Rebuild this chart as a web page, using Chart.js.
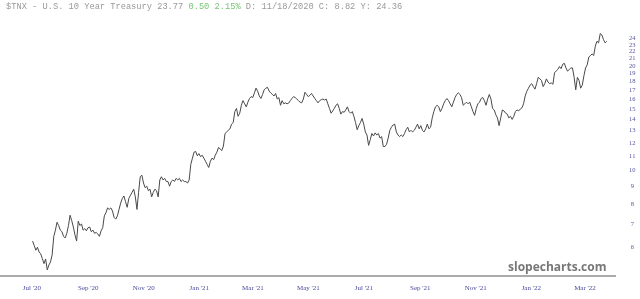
<!DOCTYPE html>
<html>
<head>
<meta charset="utf-8">
<script src="https://cdn.jsdelivr.net/npm/chart.js@4/dist/chart.umd.min.js"></script>
<style>
  body { margin: 0; background: #fff; }
  #wrap { position: relative; width: 640px; height: 299px; }
  #header {
    position: absolute; left: 6px; top: 2px;
    font: 8.7px "Liberation Mono", monospace; color: #999;
    white-space: pre;
  }
  #header .chg { color: #74c474; }
  #brand {
    position: absolute; left: 508px; top: 258px;
    font: bold 12px "Open Sans", sans-serif; color: #777;
  }
</style>
</head>
<body>
<div id="wrap">
  <canvas id="chart" width="640" height="299"></canvas>
  <div id="header">$TNX - U.S. 10 Year Treasury 23.77 <span class="chg">0.50 2.15%</span> D: 11/18/2020 C: 8.82 Y: 24.36</div>
  <div id="brand">slopecharts.com</div>
</div>
<script>
// closes, one per ~session, from early Jul 2020 to late Mar 2022
const closes = [
  6.25, 6.07, 5.88, 6.00, 5.81, 5.74, 5.56, 5.38, 5.55, 5.16,
  5.33, 5.44, 5.71, 6.45, 6.72, 7.08, 6.93, 6.72, 6.65, 6.45,
  6.38, 6.58, 6.93, 7.42, 7.16, 6.86, 6.51, 6.25, 7.13, 6.93,
  7.00, 6.72, 6.79, 6.69, 6.83, 6.86, 6.65, 6.72, 6.58, 6.62,
  6.55, 6.45, 6.69, 6.83, 7.39, 7.55, 7.79, 7.71, 7.79, 7.63,
  7.31, 7.23, 7.39, 7.71, 8.04, 8.29, 8.43, 8.12, 7.82, 8.29,
  8.47, 8.64, 8.82, 8.38, 7.71, 8.64, 9.58, 9.68, 9.19, 8.91,
  9.00, 8.73, 8.82, 8.38, 8.64, 8.82, 8.73, 8.38, 9.38, 9.58,
  9.38, 9.48, 9.28, 9.28, 9.00, 9.28, 9.38, 9.28, 9.48, 9.38,
  9.48, 9.28, 9.38, 9.28, 9.28, 9.19, 9.38, 10.40, 10.84, 11.28,
  11.33, 11.01, 11.17, 10.95, 11.05, 10.84, 10.62, 10.40, 10.19, 10.62,
  10.84, 10.73, 11.05, 11.28, 11.64, 11.52, 11.40, 11.75, 12.77, 12.90,
  13.04, 13.17, 13.59, 13.73, 14.77, 15.08, 14.31, 14.61, 15.40, 15.88,
  15.55, 15.24, 15.72, 16.11, 16.31, 16.21, 16.72, 17.25, 16.90, 16.38,
  16.11, 16.55, 17.07, 17.25, 17.35, 16.93, 16.72, 16.55, 16.38, 16.65,
  16.05, 16.21, 15.40, 15.88, 15.55, 15.65, 15.55, 15.62, 15.88, 16.11,
  16.31, 16.21, 16.05, 15.88, 15.72, 15.65, 16.05, 16.79, 16.55, 16.31,
  16.45, 16.65, 16.38, 16.11, 15.88, 15.65, 15.88, 15.98, 16.05, 15.95,
  16.05, 15.55, 15.08, 14.61, 14.83, 15.08, 15.40, 15.55, 15.08, 14.52,
  14.77, 14.70, 14.93, 15.24, 14.77, 14.61, 14.77, 14.31, 13.73, 13.09,
  13.45, 13.73, 14.11, 13.59, 12.90, 12.64, 11.80, 12.25, 12.77, 12.56,
  12.82, 12.64, 12.77, 12.38, 12.51, 11.71, 11.71, 11.88, 12.38, 13.04,
  13.31, 13.51, 13.59, 12.90, 12.64, 12.51, 12.64, 12.51, 12.77, 13.09,
  13.31, 12.90, 13.04, 12.90, 13.04, 13.31, 13.59, 13.17, 13.45, 13.04,
  12.90, 13.17, 13.59, 13.17, 13.31, 14.16, 14.77, 15.24, 15.40, 15.24,
  14.77, 15.08, 15.55, 15.88, 16.11, 15.88, 15.55, 15.24, 15.72, 16.21,
  16.55, 16.72, 16.55, 16.21, 15.40, 15.55, 15.72, 15.55, 15.72, 15.24,
  14.77, 14.40, 15.08, 15.55, 15.72, 16.11, 16.21, 15.88, 15.40, 16.05,
  16.55, 16.05, 15.08, 14.93, 14.46, 14.16, 13.45, 14.16, 14.93, 14.83,
  14.61, 14.52, 14.16, 14.31, 14.02, 14.31, 14.77, 14.93, 14.83, 15.02,
  15.14, 15.55, 16.38, 16.90, 17.25, 17.60, 17.78, 17.43, 17.14, 17.78,
  18.54, 18.35, 18.16, 17.43, 17.78, 18.35, 17.97, 17.78, 17.86, 17.71,
  19.13, 19.32, 19.53, 19.92, 19.64, 20.22, 20.35, 19.73, 19.32, 19.53,
  19.73, 19.73, 18.54, 17.07, 18.54, 18.16, 17.25, 17.60, 18.73, 19.73,
  20.13, 21.21, 21.43, 21.65, 21.43, 22.82, 23.56, 23.31, 24.80, 24.56,
  23.81, 23.31, 23.56
];

// day 0 = Jul 1 2020
const firstDay = 0.8;
const dayStep = 1.793;

const tickDays = [0, 62, 123, 184, 243, 304, 365, 427, 488, 549, 608];
const tickLabels = ["Jul '20", "Sep '20", "Nov '20", "Jan '21", "Mar '21", "May '21",
                    "Jul '21", "Sep '21", "Nov '21", "Jan '22", "Mar '22"];
const yTicks = [6, 7, 8, 9, 10, 11, 12, 13, 14, 15, 16, 17, 18, 19, 20, 21, 22, 23, 24];

const points = closes.map((v, i) => ({ x: firstDay + i * dayStep, y: v }));

new Chart(document.getElementById("chart"), {
  type: "line",
  data: {
    datasets: [{
      data: points,
      borderColor: "#484848",
      borderWidth: 1,
      pointRadius: 0,
      tension: 0
    }]
  },
  options: {
    responsive: false,
    animation: false,
    layout: { padding: 0 },
    plugins: { legend: { display: false }, tooltip: { enabled: false } },
    scales: {
      x: {
        type: "linear",
        min: -35,
        max: 641,
        grid: { display: false, drawTicks: false },
        border: { display: true, color: "#aaaaaa", width: 2 },
        afterBuildTicks: (scale) => {
          scale.ticks = tickDays.map(d => ({ value: d }));
        },
        afterFit: (scale) => { scale.height = 23; },
        ticks: {
          autoSkip: false,
          maxRotation: 0,
          padding: 8,
          color: "#4a4a9c",
          font: { family: "Liberation Serif", size: 7 },
          callback: (value) => tickLabels[tickDays.indexOf(value)]
        }
      },
      y: {
        type: "logarithmic",
        position: "right",
        min: 4.956,
        max: 27.51,
        grid: { display: false, drawTicks: false },
        border: { display: false },
        afterBuildTicks: (scale) => {
          scale.ticks = yTicks.map(v => ({ value: v }));
        },
        afterFit: (scale) => { scale.width = 25; },
        ticks: {
          autoSkip: false,
          padding: 14,
          crossAlign: "center",
          color: "#55559c",
          font: { family: "Liberation Serif", size: 6.5 },
          callback: (value) => String(value)
        }
      }
    }
  }
});
</script>
</body>
</html>
